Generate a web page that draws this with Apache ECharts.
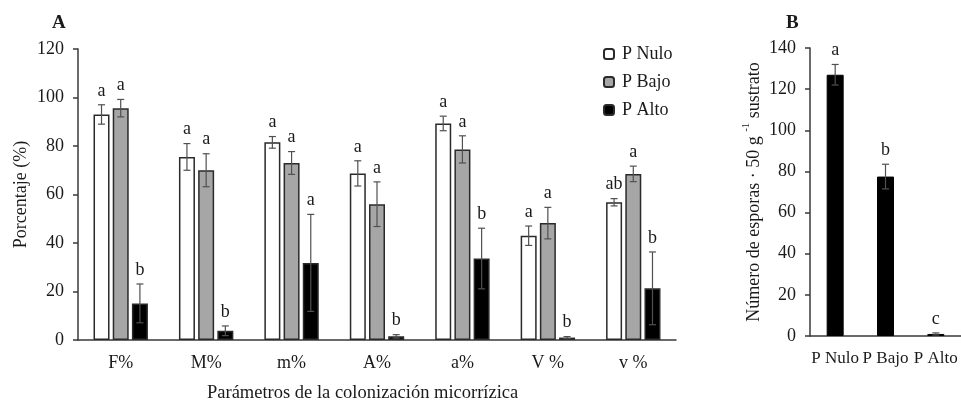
<!DOCTYPE html>
<html>
<head>
<meta charset="utf-8">
<script src="https://cdn.jsdelivr.net/npm/echarts@6/dist/echarts.min.js"></script>
<style>html,body{margin:0;padding:0;background:#fff}#c{width:961px;height:405px}</style>
</head>
<body>
<div id="c"></div>
<script>
// Panel A data
const categoriesA = ['F%', 'M%', 'm%', 'A%', 'a%', 'V %', 'v %'];
const pNulo = [93, 75.5, 81.5, 68.7, 89.3, 43, 56.8];
const pNuloErr = [4, 5.5, 2.4, 5.2, 3, 4, 1.5];
const pNuloLetters = ['a', 'a', 'a', 'a', 'a', 'a', 'ab'];
const pBajo = [95.6, 70, 73, 56, 78.6, 48.2, 68.5];
const pBajoErr = [3.6, 6.8, 4.7, 9.2, 5.6, 6.5, 3.2];
const pBajoLetters = ['a', 'a', 'a', 'a', 'a', 'a', 'a'];
const pAlto = [15.1, 3.8, 31.8, 1.5, 33.6, 1, 21.3];
const pAltoErr = [8, 2, 20, 0.7, 12.5, 0.4, 15];
const pAltoLetters = ['b', 'b', 'a', 'b', 'b', 'b', 'b'];
const yTicksA = { min: 0, max: 120, interval: 20 };

// Panel B data
const categoriesB = ['P Nulo', 'P Bajo', 'P Alto'];
const esporas = [127, 77.5, 1];
const esporasErr = [5, 6, 0.5];
const esporasLetters = ['a', 'b', 'c'];
const yTicksB = { min: 0, max: 140, interval: 20 };

const FONT = '"Liberation Serif", "Times New Roman", serif';
const TXT = '#1a1a1a';
const AXIS = '#3a3a3a';
const ERRC = '#505050';

const chart = echarts.init(document.getElementById('c'), null, { renderer: 'canvas' });

function errSeries(values, errs, letters, offset, xIdx, yIdx, name) {
  return {
    type: 'custom',
    name: name,
    xAxisIndex: xIdx, yAxisIndex: yIdx,
    z: 10,
    silent: true,
    data: values.map((v, i) => [i, v, errs[i]]),
    renderItem: function (params, api) {
      const i = api.value(0), v = api.value(1), e = api.value(2);
      const top = api.coord([i, v + e]);
      const bot = api.coord([i, Math.max(v - e, 0)]);
      const x = top[0] + offset;
      const cap = 3.5;
      return {
        type: 'group',
        children: [
          { type: 'line', shape: { x1: x, y1: top[1], x2: x, y2: bot[1] }, style: { stroke: ERRC, lineWidth: 1.2 } },
          { type: 'line', shape: { x1: x - cap, y1: top[1], x2: x + cap, y2: top[1] }, style: { stroke: ERRC, lineWidth: 1.2 } },
          { type: 'line', shape: { x1: x - cap, y1: bot[1], x2: x + cap, y2: bot[1] }, style: { stroke: ERRC, lineWidth: 1.2 } },
          { type: 'text', style: { x: x, y: top[1] - 5, text: letters[i], textAlign: 'center', textVerticalAlign: 'bottom', fill: TXT, font: '18px ' + FONT } }
        ]
      };
    }
  };
}

const barBorder = { borderColor: '#2a2a2a', borderWidth: 1.5 };

chart.setOption({
  animation: false,
  backgroundColor: '#fff',
  textStyle: { fontFamily: FONT, color: TXT },
  title: [
    { text: 'A', left: 47, top: 9, textStyle: { fontFamily: FONT, fontWeight: 'bold', fontSize: 19, color: TXT } },
    { text: 'B', left: 781, top: 9, textStyle: { fontFamily: FONT, fontWeight: 'bold', fontSize: 19, color: TXT } }
  ],
  legend: {
    orient: 'vertical', left: 598, top: 40, itemWidth: 10, itemHeight: 10, itemGap: 10,
    data: ['P Nulo', 'P Bajo', 'P Alto'],
    textStyle: { fontFamily: FONT, fontSize: 18, color: TXT, padding: [0, 0, 0, 3] }
  },
  grid: [
    { left: 78, top: 49, width: 598, height: 291 },
    { left: 810, top: 48, width: 151, height: 288 }
  ],
  xAxis: [
    {
      type: 'category', gridIndex: 0, data: categoriesA,
      axisLine: { lineStyle: { color: AXIS, width: 1.5 } },
      axisTick: { length: 5, lineStyle: { color: AXIS, width: 1.5 } },
      axisLabel: { margin: 14, color: TXT, fontFamily: FONT, fontSize: 18 }
    },
    {
      type: 'category', gridIndex: 1, data: categoriesB,
      axisLine: { lineStyle: { color: AXIS, width: 1.5 } },
      axisTick: { length: 5, lineStyle: { color: AXIS, width: 1.5 } },
      axisLabel: { margin: 14, color: TXT, fontFamily: FONT, fontSize: 17, interval: 0 }
    }
  ],
  yAxis: [
    {
      type: 'value', gridIndex: 0, min: yTicksA.min, max: yTicksA.max, interval: yTicksA.interval,
      name: 'Porcentaje (%)', nameLocation: 'middle', nameGap: 48, nameMoveOverlap: false,
      nameTextStyle: { fontFamily: FONT, fontSize: 18, color: TXT },
      axisLine: { show: true, lineStyle: { color: AXIS, width: 1.5 } },
      axisTick: { show: true, length: 5, lineStyle: { color: AXIS, width: 1.5 } },
      axisLabel: { margin: 14, color: TXT, fontFamily: FONT, fontSize: 18 },
      splitLine: { show: false }
    },
    {
      type: 'value', gridIndex: 1, min: yTicksB.min, max: yTicksB.max, interval: yTicksB.interval,
      name: '{t|Número de esporas · 50 g }{s|-1}{t| sustrato}', nameLocation: 'middle', nameGap: 47, nameMoveOverlap: false,
      nameTextStyle: {
        fontFamily: FONT, fontSize: 18, color: TXT,
        rich: {
          t: { fontFamily: FONT, fontSize: 18, color: TXT, verticalAlign: 'bottom', lineHeight: 22 },
          s: { fontFamily: FONT, fontSize: 11, color: TXT, verticalAlign: 'top', lineHeight: 22 }
        }
      },
      axisLine: { show: true, lineStyle: { color: AXIS, width: 1.5 } },
      axisTick: { show: true, length: 5, lineStyle: { color: AXIS, width: 1.5 } },
      axisLabel: { margin: 14, color: TXT, fontFamily: FONT, fontSize: 18 },
      splitLine: { show: false }
    }
  ],
  graphic: [
    { type: 'text', left: 207, top: 384, style: { text: 'Parámetros de la colonización micorrízica', font: '18.5px ' + FONT, fill: TXT } }
  ],
  series: [
    { name: 'P Nulo', type: 'bar', xAxisIndex: 0, yAxisIndex: 0, data: pNulo, barWidth: 16, barGap: '20%', itemStyle: Object.assign({ color: '#ffffff' }, barBorder) },
    { name: 'P Bajo', type: 'bar', xAxisIndex: 0, yAxisIndex: 0, data: pBajo, barWidth: 16, barGap: '20%', itemStyle: Object.assign({ color: '#a6a6a6' }, barBorder) },
    { name: 'P Alto', type: 'bar', xAxisIndex: 0, yAxisIndex: 0, data: pAlto, barWidth: 16, barGap: '20%', itemStyle: Object.assign({ color: '#000000' }, barBorder) },
    errSeries(pNulo, pNuloErr, pNuloLetters, -19.2, 0, 0, 'errNulo'),
    errSeries(pBajo, pBajoErr, pBajoLetters, 0, 0, 0, 'errBajo'),
    errSeries(pAlto, pAltoErr, pAltoLetters, 19.2, 0, 0, 'errAlto'),
    { name: 'Esporas', type: 'bar', xAxisIndex: 1, yAxisIndex: 1, data: esporas, barWidth: 17, itemStyle: { color: '#000000', borderColor: '#000', borderWidth: 1 } },
    errSeries(esporas, esporasErr, esporasLetters, 0, 1, 1, 'errEsporas')
  ]
});
</script>
</body>
</html>
